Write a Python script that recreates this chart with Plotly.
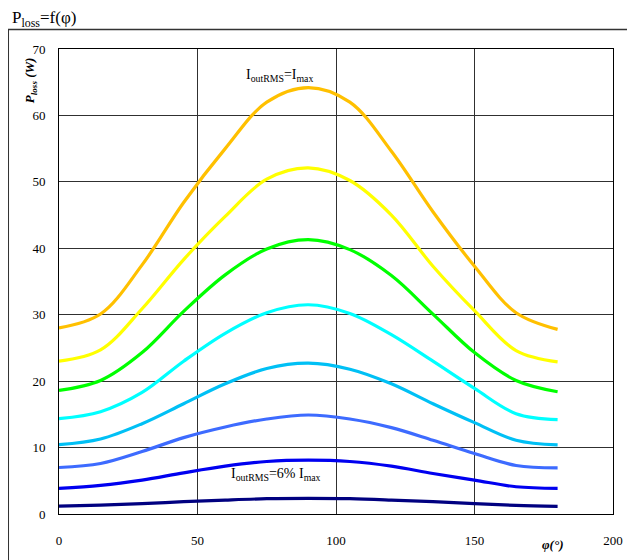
import plotly.graph_objects as go

phi = [0, 15, 30, 45, 60, 75, 90, 105, 120, 135, 150, 165, 180]

p_100 = [28.0, 30.1, 37.5, 46.9, 55.0, 62.0, 64.2, 62.0, 54.6, 45.5, 37.3, 30.3, 27.8]
p_85 = [23.0, 24.7, 30.9, 38.3, 44.8, 50.4, 52.1, 50.2, 45.0, 37.3, 30.6, 24.6, 22.9]
p_70 = [18.6, 20.1, 24.3, 30.5, 36.0, 39.9, 41.3, 39.8, 35.9, 30.1, 24.3, 20.1, 18.4]
p_55 = [14.35, 15.4, 18.3, 23.0, 27.2, 30.3, 31.5, 30.2, 27.0, 23.0, 18.9, 15.1, 14.2]
p_40 = [10.45, 11.3, 13.6, 16.6, 19.6, 21.9, 22.7, 21.8, 19.6, 16.6, 13.75, 11.1, 10.4]
p_25 = [7.0, 7.6, 9.4, 11.5, 13.1, 14.3, 14.9, 14.3, 13.0, 11.1, 9.1, 7.3, 6.95]
p_12 = [3.85, 4.3, 5.1, 6.2, 7.2, 7.9, 8.1, 7.9, 7.2, 6.1, 5.1, 4.1, 3.85]
p_6 = [1.2, 1.35, 1.55, 1.85, 2.1, 2.3, 2.35, 2.3, 2.1, 1.85, 1.55, 1.3, 1.15]

series = [p_100, p_85, p_70, p_55, p_40, p_25, p_12, p_6]
colors = ["#FFC000", "#FFFF00", "#00FF00", "#00FFFF", "#00C0F5", "#3D6BFF", "#0000F0", "#000080"]

x_ticks = [0, 50, 100, 150, 200]
y_ticks = [0, 10, 20, 30, 40, 50, 60, 70]

# page body has an 8px margin: draw the figure 8px smaller and shift coordinates
OFF = 8
W, H = 635 - OFF, 560 - OFF
L, R, T, B = 59.3 - OFF, 613.5 - OFF, 48.5 - OFF, 514.0 - OFF

def px(x):
    return (x - OFF - L) / (R - L)

def py(y):
    return (B - (y - OFF)) / (B - T)

fig = go.Figure()
for vals, col in zip(series, colors):
    fig.add_trace(go.Scatter(
        x=phi, y=vals, mode="lines",
        line=dict(color=col, width=3.2, shape="spline", smoothing=1.0),
        showlegend=False, hoverinfo="skip"))

font_fam = "Liberation Serif"

fig.update_layout(
    width=W, height=H,
    margin=dict(l=L, r=W - R, t=T, b=H - B, pad=0),
    paper_bgcolor="white", plot_bgcolor="white",
    font=dict(family=font_fam, size=13, color="black"),
    xaxis=dict(range=[0, 200], tickvals=x_ticks, showgrid=True,
               gridcolor="#303030", gridwidth=1, zeroline=False,
               showline=True, linecolor="black", linewidth=1, mirror=True,
               ticks="", ticklabelstandoff=14,
               tickfont=dict(family=font_fam, size=13, color="black")),
    yaxis=dict(range=[0, 70], tickvals=y_ticks, showgrid=True,
               gridcolor="#303030", gridwidth=1, zeroline=False,
               showline=True, linecolor="black", linewidth=1, mirror=True,
               ticks="", ticklabelstandoff=10,
               tickfont=dict(family=font_fam, size=13, color="black")),
    shapes=[dict(type="rect", xref="paper", yref="paper",
                 x0=px(8.5), x1=px(632), y0=py(580), y1=py(29),
                 line=dict(color="#333333", width=1.6), layer="below")],
    annotations=[
        dict(text="P<sub>loss</sub>=f(φ)", xref="paper", yref="paper",
             x=px(10), y=py(18.5), xanchor="left", yanchor="middle",
             showarrow=False, font=dict(family=font_fam, size=17, color="black")),
        dict(text="<b><i>P<sub>loss</sub> (W)</i></b>", xref="paper", yref="paper",
             x=px(31), y=py(80), xanchor="center", yanchor="middle",
             textangle=-90, showarrow=False,
             font=dict(family=font_fam, size=13, color="black")),
        dict(text="<b><i>φ(°)</i></b>", xref="paper", yref="paper",
             x=px(553), y=py(545), xanchor="center", yanchor="middle",
             showarrow=False, font=dict(family=font_fam, size=13, color="black")),
        dict(text="I<sub>outRMS</sub>=I<sub>max</sub>", x=79.5, y=66.0,
             xanchor="center", yanchor="middle", showarrow=False,
             font=dict(family=font_fam, size=14, color="black")),
        dict(text="I<sub>outRMS</sub>=6% I<sub>max</sub>", x=78.5, y=6.0,
             xanchor="center", yanchor="middle", showarrow=False,
             font=dict(family=font_fam, size=14, color="black")),
    ],
)

fig.write_html("out.html")
